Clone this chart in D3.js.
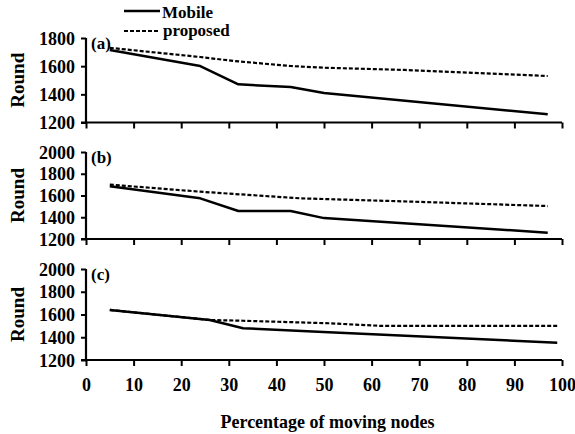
<!DOCTYPE html>
<html><head><meta charset="utf-8">
<script src="https://cdn.jsdelivr.net/npm/d3@7/dist/d3.min.js"></script>
<style>
body{margin:0;background:#fff;}
svg{display:block;}
</style></head>
<body><svg id="c" width="575" height="434"></svg>
<script>
// ---- data ----
const panelLabels = ["(a)", "(b)", "(c)"];
const yDomains = [[1200, 1800], [1200, 2000], [1200, 2000]];
const yTicks = [[1200, 1400, 1600, 1800], [1200, 1400, 1600, 1800, 2000], [1200, 1400, 1600, 1800, 2000]];
const xTicks = [0, 10, 20, 30, 40, 50, 60, 70, 80, 90, 100];

const mobileA_x = [5, 24, 32, 43, 50, 97];
const mobileA_y = [1715, 1601, 1471, 1452, 1409, 1258];
const proposedA_x = [5, 24, 31, 43, 50, 67, 97];
const proposedA_y = [1730, 1665, 1637, 1601, 1589, 1573, 1530];

const mobileB_x = [5, 24, 32, 43, 50, 97];
const mobileB_y = [1685, 1574, 1457, 1457, 1392, 1258];
const proposedB_x = [5, 24, 45, 69, 97];
const proposedB_y = [1700, 1635, 1574, 1543, 1503];

const mobileC_x = [5, 26, 33, 51, 99];
const mobileC_y = [1640, 1552, 1479, 1444, 1352];
const proposedC_x = [5, 26, 33, 51, 62, 99];
const proposedC_y = [1640, 1552, 1545, 1523, 1500, 1500];

const seriesNames = ["Mobile", "proposed"];
const xTitle = "Percentage of moving nodes";
const yTitle = "Round";

// ---- layout ----
const FAMILY = '"Liberation Serif","Times New Roman",Times,"DejaVu Serif",serif';
const svg = d3.select("#c");

// font scale detection (in case the serif font falls back to a wider face)
const probe = svg.append("text").attr("x", -999).attr("y", -999)
  .style("font-family", FAMILY).style("font-weight", "bold").style("font-size", "18px").text(xTitle);
const measured = probe.node().getComputedTextLength();
probe.remove();
let k = 214 / measured;
if (!isFinite(k) || k <= 0) k = 1;
k = Math.min(1.15, Math.max(0.7, k));
const fs = s => (s * k).toFixed(2) + "px";

function styleText(sel, size) {
  return sel.style("font-family", FAMILY).style("font-weight", "bold").style("font-size", fs(size)).attr("fill", "#000");
}

const left = 86, right = 562;
const panelBox = [[38, 122.5], [152, 239], [269, 360]];
const x = d3.scaleLinear().domain([0, 100]).range([left, right]);

const mobile = [[mobileA_x, mobileA_y], [mobileB_x, mobileB_y], [mobileC_x, mobileC_y]];
const proposed = [[proposedA_x, proposedA_y], [proposedB_x, proposedB_y], [proposedC_x, proposedC_y]];

panelBox.forEach((pb, i) => {
  const y = d3.scaleLinear().domain(yDomains[i]).range([pb[1], pb[0]]);
  // y axis
  const ya = svg.append("g").attr("transform", `translate(${left},0)`)
    .call(d3.axisLeft(y).tickValues(yTicks[i]).tickSize(5).tickPadding(6).tickFormat(d3.format("d")));
  ya.attr("font-family", null).attr("font-size", null);
  ya.select(".domain").attr("d", `M0,${pb[1]}V${pb[0]}`).attr("stroke", "#000").attr("stroke-width", 2.2);
  ya.selectAll(".tick line").attr("stroke", "#000").attr("stroke-width", 2);
  styleText(ya.selectAll(".tick text"), 18).attr("dy", "0.34em");
  // x axis
  const xa = svg.append("g").attr("transform", `translate(0,${pb[1]})`)
    .call(d3.axisBottom(x).tickValues(xTicks).tickSize(6).tickPadding(12)
      .tickFormat(i === 2 ? d3.format("d") : () => ""));
  xa.attr("font-family", null).attr("font-size", null);
  xa.select(".domain").attr("d", `M${left - 5},0H${right}`).attr("stroke", "#000").attr("stroke-width", 2.2);
  xa.selectAll(".tick line").attr("stroke", "#000").attr("stroke-width", 2);
  styleText(xa.selectAll(".tick text"), 18);
  // Round label
  styleText(svg.append("text").attr("transform", `translate(24,${(pb[0] + pb[1]) / 2}) rotate(-90)`)
    .attr("text-anchor", "middle"), 19).text(yTitle);
  // panel label
  styleText(svg.append("text").attr("x", 91).attr("y", pb[0] + 11), 17).text(panelLabels[i]);
  // lines
  const line = d3.line().x(d => x(d[0])).y(d => y(d[1]));
  const pd = d3.zip(proposed[i][0], proposed[i][1]);
  const md = d3.zip(mobile[i][0], mobile[i][1]);
  svg.append("path").datum(pd).attr("d", line).attr("fill", "none").attr("stroke", "#000")
    .attr("stroke-width", 2.2).attr("stroke-dasharray", "4,2");
  svg.append("path").datum(md).attr("d", line).attr("fill", "none").attr("stroke", "#000")
    .attr("stroke-width", 2.5).attr("stroke-linejoin", "round");
});

// legend
const lg = svg.append("g");
lg.append("line").attr("x1", 124).attr("x2", 160).attr("y1", 11).attr("y2", 11).attr("stroke", "#000").attr("stroke-width", 2.5);
styleText(lg.append("text").attr("x", 162).attr("y", 17.5), 17).text(seriesNames[0]);
lg.append("line").attr("x1", 124).attr("x2", 160).attr("y1", 31).attr("y2", 31).attr("stroke", "#000").attr("stroke-width", 2.2).attr("stroke-dasharray", "4,2");
styleText(lg.append("text").attr("x", 163).attr("y", 36), 17).text(seriesNames[1]);

// x title
styleText(svg.append("text").attr("x", 327.5).attr("y", 428).attr("text-anchor", "middle"), 18).text(xTitle);
</script></body></html>
